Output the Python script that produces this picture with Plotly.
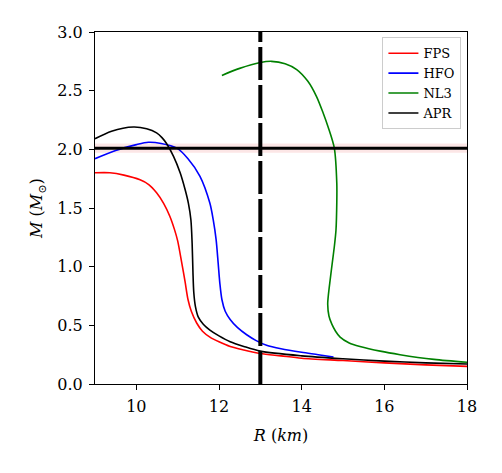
import plotly.graph_objects as go

# FPS
fps_R = [9.0, 9.36, 9.7, 10.09, 10.3, 10.49, 10.66, 10.81, 10.92, 11.0, 11.1, 11.18, 11.25, 11.33, 11.46, 11.6, 11.78, 12.0, 12.27, 12.6, 13.0, 13.5, 14.0, 15.0, 16.0, 17.0, 18.0]
fps_M = [1.80, 1.80, 1.78, 1.74, 1.70, 1.63, 1.54, 1.43, 1.32, 1.22, 1.03, 0.87, 0.72, 0.62, 0.52, 0.45, 0.40, 0.36, 0.32, 0.29, 0.26, 0.24, 0.22, 0.20, 0.18, 0.163, 0.15]
# HFO
hfo_R = [9.0, 9.5, 10.0, 10.29, 10.6, 10.98, 11.25, 11.54, 11.78, 11.86, 11.93, 11.98, 12.02, 12.07, 12.15, 12.27, 12.45, 12.67, 12.9, 13.15, 13.5, 14.0, 14.4, 14.77]
hfo_M = [1.92, 1.99, 2.04, 2.06, 2.05, 2.01, 1.92, 1.77, 1.54, 1.40, 1.23, 1.03, 0.86, 0.72, 0.62, 0.55, 0.48, 0.42, 0.37, 0.33, 0.30, 0.27, 0.25, 0.23]
# NL3
nl3_R = [12.07, 12.5, 13.0, 13.27, 13.6, 13.88, 14.15, 14.36, 14.52, 14.64, 14.79, 14.85, 14.85, 14.83, 14.79, 14.74, 14.69, 14.65, 14.63, 14.66, 14.73, 14.82, 14.93, 15.15, 15.41, 15.9, 16.38, 17.2, 18.0]
nl3_M = [2.63, 2.69, 2.74, 2.75, 2.73, 2.68, 2.58, 2.45, 2.31, 2.19, 2.01, 1.71, 1.55, 1.31, 1.17, 1.03, 0.89, 0.77, 0.68, 0.58, 0.51, 0.45, 0.40, 0.35, 0.32, 0.28, 0.25, 0.21, 0.185]
# APR
apr_R = [9.0, 9.4, 9.93, 10.25, 10.49, 10.62, 10.73, 10.9, 11.06, 11.17, 11.26, 11.32, 11.35, 11.37, 11.39, 11.43, 11.5, 11.62, 11.78, 12.0, 12.27, 12.6, 13.0, 14.0, 15.0, 16.0, 17.0, 18.0]
apr_M = [2.09, 2.155, 2.19, 2.175, 2.14, 2.10, 2.05, 1.94, 1.80, 1.67, 1.54, 1.40, 1.20, 0.95, 0.78, 0.66, 0.57, 0.51, 0.46, 0.41, 0.36, 0.32, 0.28, 0.24, 0.215, 0.195, 0.18, 0.17]

series = [("FPS", fps_R, fps_M, "red"),
          ("HFO", hfo_R, hfo_M, "blue"),
          ("NL3", nl3_R, nl3_M, "green"),
          ("APR", apr_R, apr_M, "black")]

R_obs = 13.0
M_obs = 2.01
M_band = [1.97, 2.05]
x_range = [9, 18]
y_range = [0, 3]
x_ticks = [10, 12, 14, 16, 18]
y_ticks = [0.0, 0.5, 1.0, 1.5, 2.0, 2.5, 3.0]

fig = go.Figure()
for name, R, M, c in series:
    fig.add_trace(go.Scatter(x=R, y=M, mode="lines", name=name,
                             line=dict(color=c, width=1.6, shape="spline", smoothing=0.8)))

fig.add_shape(type="rect", xref="x", yref="y", x0=x_range[0], x1=x_range[1],
              y0=M_band[0], y1=M_band[1], fillcolor="rgba(240,128,128,0.2)",
              line=dict(width=0), layer="below")
fig.add_shape(type="line", xref="x", yref="y", x0=x_range[0], x1=x_range[1],
              y0=M_obs, y1=M_obs, line=dict(color="black", width=3))
fig.add_shape(type="line", xref="x", yref="y", x0=R_obs, x1=R_obs,
              y0=y_range[0], y1=y_range[1], line=dict(color="black", width=4, dash="33px,5px"))

font = "DejaVu Serif"
axis_common = dict(showline=True, linecolor="black", linewidth=1.2, mirror=True,
                   ticks="outside", ticklen=5, tickcolor="black", showgrid=False,
                   zeroline=False, ticklabelstandoff=3,
                   tickfont=dict(family=font, size=16, color="black"))
fig.update_xaxes(range=x_range, tickvals=x_ticks, ticktext=[str(t) for t in x_ticks],
                 title=dict(text="<i>R</i> (<i>km</i>)", font=dict(family=font, size=16, color="black"),
                            standoff=14), **axis_common)
fig.update_yaxes(range=y_range, tickvals=y_ticks, ticktext=[f"{t:.1f}" for t in y_ticks],
                 title=dict(text="<i>M</i> (<i>M</i><sub>⊙</sub>)", font=dict(family=font, size=16, color="black"),
                            standoff=10), **axis_common)

fig.update_layout(width=502, height=473, margin=dict(l=95, r=35, t=32, b=89),
                  font=dict(family=font, color="black"),
                  paper_bgcolor="white", plot_bgcolor="white",
                  legend=dict(x=0.985, y=0.985, xanchor="right", yanchor="top",
                              bordercolor="#cccccc", borderwidth=1, bgcolor="rgba(255,255,255,0.8)",
                              font=dict(family=font, size=13, color="black"),
                              tracegroupgap=0, itemwidth=30),
                  showlegend=True)

fig.write_html("out.html")
